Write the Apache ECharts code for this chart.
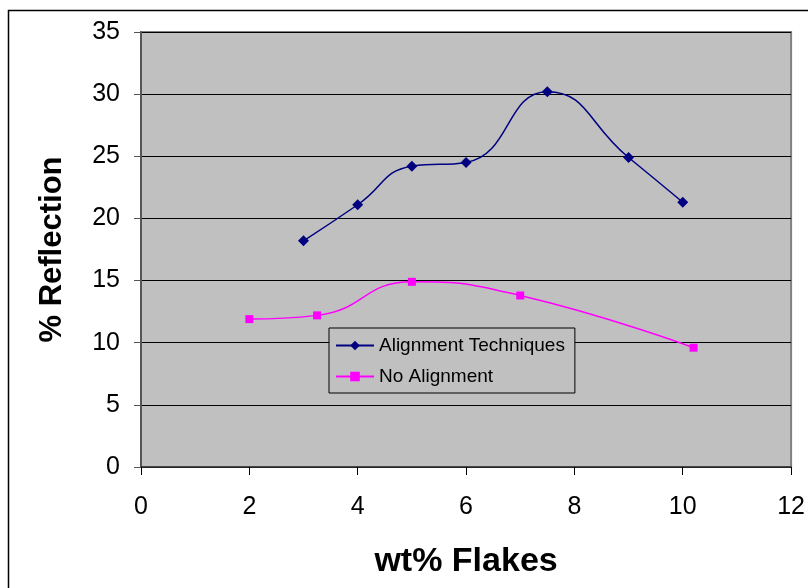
<!DOCTYPE html>
<html>
<head>
<meta charset="utf-8">
<script src="https://cdn.jsdelivr.net/npm/echarts@6/dist/echarts.min.js"></script>
<style>
  html, body { margin: 0; padding: 0; background: #fff; }
  #chart { width: 808px; height: 588px; }
</style>
</head>
<body>
<div id="chart"></div>
<script>
// data
const alignX = [3, 4, 5, 6, 7.5, 9, 10];
const alignY = [18.2, 21.1, 24.2, 24.5, 30.2, 24.9, 21.3];
const noAlignX = [2, 3.25, 5, 7, 10.2];
const noAlignY = [11.9, 12.2, 14.9, 13.8, 9.6];
const seriesNames = ["Alignment Techniques", "No Alignment"];

const pairs = (xs, ys) => xs.map((x, i) => [x, ys[i]]);

const chart = echarts.init(document.getElementById("chart"));
const font = "Liberation Sans, Arial, sans-serif";

chart.setOption({
  animation: false,
  textStyle: { fontFamily: font },
  graphic: [
    {
      type: "rect",
      shape: { x: 8.5, y: 10.5, width: 900, height: 700 },
      style: { fill: "none", stroke: "#000", lineWidth: 1.5 },
      z: 0
    }
  ],
  grid: {
    show: true,
    left: 141,
    top: 32,
    width: 652,
    height: 435,
    backgroundColor: "#C0C0C0",
    borderColor: "#808080",
    borderWidth: 2
  },
  legend: {
    orient: "vertical",
    left: 329,
    top: 328,
    width: 246,
    padding: [8, 10, 7, 6],
    itemGap: 12,
    itemWidth: 38,
    itemHeight: 12,
    backgroundColor: "#C0C0C0",
    borderColor: "#000",
    borderWidth: 1,
    textStyle: { fontFamily: font, fontSize: 19, color: "#000" },
    data: seriesNames
  },
  xAxis: {
    type: "value",
    min: 0,
    max: 12,
    interval: 2,
    name: "wt% Flakes",
    nameLocation: "middle",
    nameGap: 78,
    nameTextStyle: { fontFamily: font, fontSize: 34, fontWeight: "bold", color: "#000" },
    axisLine: { show: true, lineStyle: { color: "#333", width: 1.5 } },
    axisTick: { show: true, inside: false, length: 8, lineStyle: { color: "#000" } },
    axisLabel: { fontSize: 25, color: "#000", margin: 28 },
    splitLine: { show: false }
  },
  yAxis: {
    type: "value",
    min: 0,
    max: 35,
    interval: 5,
    name: "% Reflection",
    nameLocation: "middle",
    nameGap: 73,
    nameTextStyle: { fontFamily: font, fontSize: 31, fontWeight: "bold", color: "#000" },
    axisLine: { show: true, lineStyle: { color: "#555", width: 2 } },
    axisTick: { show: true, inside: false, length: 7, lineStyle: { color: "#555" } },
    axisLabel: { fontSize: 25, color: "#000", margin: 21 },
    splitLine: { show: true, lineStyle: { color: "#000", width: 1 } }
  },
  series: [
    {
      name: seriesNames[0],
      type: "line",
      smooth: 0.5,
      data: pairs(alignX, alignY),
      symbol: "diamond",
      symbolSize: 11,
      itemStyle: { color: "#000080" },
      lineStyle: { color: "#000080", width: 1.5 },
      z: 3
    },
    {
      name: seriesNames[1],
      type: "line",
      smooth: 0.5,
      data: pairs(noAlignX, noAlignY),
      symbol: "rect",
      symbolSize: 8,
      itemStyle: { color: "#FF00FF" },
      lineStyle: { color: "#FF00FF", width: 1.5 },
      z: 3
    }
  ]
});
</script>
</body>
</html>
